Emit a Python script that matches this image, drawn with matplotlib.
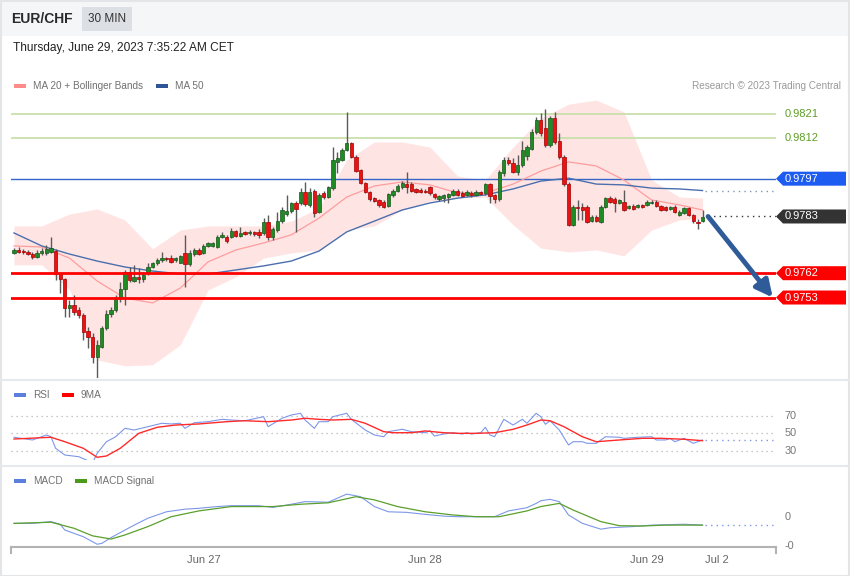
import numpy as np
import matplotlib
matplotlib.use("Agg")
import matplotlib.pyplot as plt
from matplotlib.patches import Rectangle, Polygon
from matplotlib.transforms import blended_transform_factory as blend

plt.rcParams['font.family'] = ['Liberation Sans', 'DejaVu Sans']

# ---- EUR/CHF 30 min candles ----
opens = [0.97696, 0.97706, 0.97702, 0.97700, 0.97691, 0.97681, 0.97694, 0.97694, 0.97700, 0.97703,
         0.97617, 0.97598, 0.97490, 0.97503, 0.97484, 0.97466, 0.97407, 0.97385, 0.97311, 0.97348,
         0.97416, 0.97468, 0.97484, 0.97527, 0.97561, 0.97626, 0.97592, 0.97607, 0.97599, 0.97620,
         0.97644, 0.97657, 0.97669, 0.97675, 0.97675, 0.97669, 0.97659, 0.97695, 0.97654, 0.97691,
         0.97706, 0.97695, 0.97721, 0.97722, 0.97718, 0.97755, 0.97755, 0.97755, 0.97776, 0.97759,
         0.97772, 0.97768, 0.97772, 0.97772, 0.97768, 0.97811, 0.97755, 0.97780, 0.97814, 0.97838,
         0.97851, 0.97881, 0.97879, 0.97922, 0.97873, 0.97924, 0.97848, 0.97916, 0.97902, 0.97934,
         0.98032, 0.98039, 0.98076, 0.98101, 0.98051, 0.98002, 0.97955, 0.97922, 0.97897, 0.97891,
         0.97885, 0.97869, 0.97910, 0.97925, 0.97938, 0.97950, 0.97950, 0.97931, 0.97928, 0.97925,
         0.97940, 0.97913, 0.97894, 0.97897, 0.97903, 0.97910, 0.97925, 0.97918, 0.97910, 0.97918,
         0.97910, 0.97919, 0.97916, 0.97950, 0.97910, 0.97894, 0.97991, 0.98039, 0.98029, 0.97995,
         0.98021, 0.98054, 0.98080, 0.98143, 0.98187, 0.98157, 0.98095, 0.98193, 0.98109, 0.98050,
         0.97950, 0.97799, 0.97866, 0.97866, 0.97866, 0.97814, 0.97829, 0.97811, 0.97866, 0.97897,
         0.97895, 0.97880, 0.97885, 0.97861, 0.97869, 0.97865, 0.97873, 0.97873, 0.97879, 0.97885,
         0.97869, 0.97865, 0.97858, 0.97865, 0.97836, 0.97844, 0.97861, 0.97836, 0.97811, 0.97814]
highs = [0.97713, 0.97718, 0.97710, 0.97706, 0.97699, 0.97706, 0.97713, 0.97725, 0.97754, 0.97710,
         0.97621, 0.97602, 0.97521, 0.97540, 0.97496, 0.97473, 0.97422, 0.97398, 0.97373, 0.97425,
         0.97484, 0.97496, 0.97540, 0.97589, 0.97632, 0.97644, 0.97651, 0.97638, 0.97626, 0.97657,
         0.97663, 0.97675, 0.97700, 0.97681, 0.97688, 0.97681, 0.97688, 0.97762, 0.97706, 0.97713,
         0.97713, 0.97728, 0.97736, 0.97736, 0.97762, 0.97773, 0.97762, 0.97787, 0.97780, 0.97790,
         0.97776, 0.97780, 0.97776, 0.97784, 0.97824, 0.97836, 0.97791, 0.97847, 0.97866, 0.97910,
         0.97884, 0.97887, 0.97935, 0.97959, 0.97935, 0.97932, 0.97917, 0.97924, 0.97943, 0.98088,
         0.98069, 0.98083, 0.98218, 0.98106, 0.98058, 0.98006, 0.97958, 0.97924, 0.97902, 0.97895,
         0.97891, 0.97917, 0.97932, 0.97950, 0.97961, 0.97996, 0.97958, 0.97935, 0.97935, 0.97932,
         0.97943, 0.97917, 0.97910, 0.97913, 0.97917, 0.97932, 0.97932, 0.97924, 0.97928, 0.97924,
         0.97928, 0.97924, 0.97954, 0.97954, 0.97913, 0.98002, 0.98050, 0.98050, 0.98046, 0.98058,
         0.98109, 0.98095, 0.98154, 0.98198, 0.98213, 0.98228, 0.98202, 0.98217, 0.98139, 0.98058,
         0.97958, 0.97873, 0.97891, 0.97880, 0.97873, 0.97836, 0.97836, 0.97873, 0.97902, 0.97906,
         0.97902, 0.97895, 0.97928, 0.97873, 0.97876, 0.97876, 0.97876, 0.97891, 0.97891, 0.97891,
         0.97873, 0.97869, 0.97869, 0.97873, 0.97854, 0.97865, 0.97865, 0.97839, 0.97821, 0.97854]
lows = [0.97691, 0.97694, 0.97691, 0.97688, 0.97673, 0.97676, 0.97688, 0.97688, 0.97695, 0.97595,
        0.97546, 0.97459, 0.97457, 0.97466, 0.97453, 0.97373, 0.97342, 0.97287, 0.97231, 0.97342,
        0.97410, 0.97459, 0.97478, 0.97515, 0.97503, 0.97589, 0.97589, 0.97583, 0.97589, 0.97614,
        0.97639, 0.97651, 0.97663, 0.97665, 0.97657, 0.97663, 0.97657, 0.97570, 0.97647, 0.97684,
        0.97688, 0.97691, 0.97717, 0.97717, 0.97713, 0.97750, 0.97733, 0.97750, 0.97754, 0.97754,
        0.97762, 0.97762, 0.97758, 0.97750, 0.97762, 0.97743, 0.97743, 0.97773, 0.97806, 0.97832,
        0.97843, 0.97774, 0.97873, 0.97869, 0.97865, 0.97829, 0.97843, 0.97895, 0.97898, 0.97928,
        0.97992, 0.98035, 0.98072, 0.98046, 0.97995, 0.97950, 0.97917, 0.97887, 0.97884, 0.97865,
        0.97861, 0.97865, 0.97902, 0.97921, 0.97932, 0.97916, 0.97921, 0.97917, 0.97917, 0.97917,
        0.97910, 0.97895, 0.97887, 0.97885, 0.97879, 0.97906, 0.97906, 0.97902, 0.97906, 0.97904,
        0.97906, 0.97910, 0.97910, 0.97879, 0.97879, 0.97887, 0.97980, 0.98021, 0.97991, 0.97984,
        0.98013, 0.98039, 0.98076, 0.98135, 0.98128, 0.98087, 0.98087, 0.98098, 0.98043, 0.97943,
        0.97795, 0.97795, 0.97817, 0.97817, 0.97806, 0.97810, 0.97810, 0.97806, 0.97861, 0.97880,
        0.97847, 0.97876, 0.97850, 0.97858, 0.97854, 0.97861, 0.97860, 0.97869, 0.97876, 0.97865,
        0.97850, 0.97850, 0.97854, 0.97843, 0.97832, 0.97839, 0.97832, 0.97806, 0.97784, 0.97810]
closes = [0.97706, 0.97700, 0.97699, 0.97691, 0.97679, 0.97696, 0.97703, 0.97709, 0.97712, 0.97617,
          0.97598, 0.97490, 0.97503, 0.97478, 0.97466, 0.97404, 0.97383, 0.97311, 0.97355, 0.97416,
          0.97469, 0.97484, 0.97527, 0.97561, 0.97626, 0.97595, 0.97607, 0.97598, 0.97614, 0.97644,
          0.97657, 0.97669, 0.97675, 0.97672, 0.97663, 0.97675, 0.97684, 0.97654, 0.97694, 0.97706,
          0.97691, 0.97722, 0.97731, 0.97731, 0.97755, 0.97762, 0.97740, 0.97776, 0.97759, 0.97768,
          0.97765, 0.97774, 0.97764, 0.97762, 0.97811, 0.97755, 0.97783, 0.97814, 0.97854, 0.97851,
          0.97881, 0.97858, 0.97922, 0.97876, 0.97921, 0.97842, 0.97910, 0.97902, 0.97938, 0.98039,
          0.98046, 0.98076, 0.98101, 0.98051, 0.97999, 0.97955, 0.97922, 0.97894, 0.97888, 0.97873,
          0.97866, 0.97912, 0.97925, 0.97943, 0.97953, 0.97939, 0.97925, 0.97922, 0.97922, 0.97921,
          0.97916, 0.97901, 0.97906, 0.97910, 0.97912, 0.97925, 0.97910, 0.97906, 0.97922, 0.97908,
          0.97922, 0.97913, 0.97950, 0.97906, 0.97894, 0.97995, 0.98039, 0.98027, 0.97996, 0.98021,
          0.98076, 0.98087, 0.98143, 0.98189, 0.98139, 0.98095, 0.98193, 0.98106, 0.98050, 0.97950,
          0.97799, 0.97865, 0.97860, 0.97854, 0.97811, 0.97829, 0.97814, 0.97866, 0.97897, 0.97885,
          0.97880, 0.97891, 0.97854, 0.97869, 0.97858, 0.97873, 0.97864, 0.97885, 0.97885, 0.97869,
          0.97854, 0.97854, 0.97866, 0.97848, 0.97848, 0.97861, 0.97836, 0.97814, 0.97805, 0.97829]

# MA 20 + Bollinger Bands, MA 50 (read every 6 bars)
bb_idx = list(range(0, 145, 6)) + [149]
ma20 = [0.97721, 0.97717, 0.97676, 0.97591, 0.97528, 0.97510, 0.97565, 0.97662, 0.97706, 0.97732,
        0.97762, 0.97824, 0.97902, 0.97943, 0.97958, 0.97947, 0.97917, 0.97917, 0.97950, 0.97998,
        0.98032, 0.98017, 0.97965, 0.97891, 0.97873, 0.97854]
bb_upper = [0.97795, 0.97795, 0.97839, 0.97858, 0.97817, 0.97710, 0.97780, 0.97795, 0.97795, 0.97795,
            0.97813, 0.97861, 0.98039, 0.98106, 0.98106, 0.98087, 0.97980, 0.97965, 0.98087, 0.98194,
            0.98246, 0.98261, 0.98217, 0.97965, 0.97902, 0.97898]
bb_lower = [0.97651, 0.97651, 0.97558, 0.97299, 0.97277, 0.97281, 0.97355, 0.97558, 0.97606, 0.97676,
            0.97695, 0.97706, 0.97780, 0.97795, 0.97854, 0.97887, 0.97898, 0.97902, 0.97799, 0.97713,
            0.97699, 0.97706, 0.97684, 0.97780, 0.97817, 0.97824]
ma50 = [0.97769, 0.97721, 0.97691, 0.97665, 0.97643, 0.97628, 0.97617, 0.97617, 0.97632, 0.97647,
        0.97665, 0.97702, 0.97773, 0.97813, 0.97854, 0.97880, 0.97898, 0.97910, 0.97932, 0.97961,
        0.97972, 0.97950, 0.97947, 0.97935, 0.97932, 0.97926]

# RSI and its 9MA
rsi_idx = [0, 4, 7, 8, 9, 11, 14, 17, 18, 20, 22, 24, 26, 29, 32, 34, 36, 37, 39, 42,
           45, 47, 50, 54, 55, 58, 60, 62, 63, 65, 66, 68, 69, 72, 73, 76, 78, 80, 81, 84,
           86, 89, 90, 91, 93, 95, 97, 98, 99, 101, 102, 103, 104, 106, 108, 110, 111, 113, 114, 115,
           116, 118, 120, 121, 123, 124, 126, 128, 131, 132, 135, 138, 139, 141, 142, 143, 145, 147, 149]
rsi = [45.7, 42.6, 48.3, 46.3, 33.1, 25.4, 23.5, 16.6, 27.4, 40.6, 46.3, 55.9, 54.0, 57.8, 61.7, 60.9, 61.7, 55.9, 62.3, 63.5,
       66.2, 65.4, 64.6, 69.2, 57.8, 67.4, 71.1, 73.1, 65.4, 55.9, 63.5, 63.5, 69.2, 73.1, 66.2, 54.0, 48.3, 46.3, 52.1, 54.8,
       52.1, 50.9, 53.2, 47.1, 49.4, 50.9, 49.4, 50.9, 49.4, 50.9, 57.1, 48.3, 46.3, 66.2, 59.7, 66.2, 61.7, 73.1, 69.2, 60.5,
       64.6, 54.0, 36.9, 40.6, 40.6, 38.8, 38.8, 46.3, 45.7, 44.5, 45.7, 46.3, 42.6, 42.6, 44.5, 40.6, 44.5, 38.8, 42.6]
rsi_ma_idx = [0, 8, 11, 15, 18, 20, 23, 27, 31, 35, 40, 46, 50, 55, 60, 63, 66, 69, 73, 76,
              80, 82, 86, 89, 93, 96, 100, 104, 108, 111, 114, 116, 119, 123, 126, 131, 136, 140, 145, 149]
rsi_ma = [43.7, 45.7, 40.6, 33.1, 22.8, 24.3, 33.1, 50.2, 57.1, 59.7, 60.9, 63.5, 64.6, 63.5, 65.4, 67.4, 66.2, 65.4, 66.2, 61.7,
          52.1, 50.9, 50.9, 52.9, 50.9, 50.2, 50.2, 50.9, 54.8, 59.7, 65.4, 64.6, 57.8, 46.3, 40.6, 42.6, 44.5, 44.5, 43.4, 41.8]

# MACD and signal
macd_idx = [0, 4, 8, 10, 11, 15, 18, 19, 21, 26, 29, 33, 37, 40, 44, 47, 53, 56, 60, 63,
            68, 70, 72, 75, 78, 81, 85, 89, 93, 96, 100, 104, 107, 111, 113, 114, 116, 118, 120, 123,
            127, 129, 134, 138, 145, 149]
macd = [-0.00022, -0.00022, -0.00016, -0.00025, -0.00045, -0.00068, -0.00094, -0.00091, -0.00071, -0.00028,
        -0.00004, 0.00018, 0.00027, 0.00030, 0.00036, 0.00039, 0.00039, 0.00033, 0.00044, 0.00053,
        0.00051, 0.00065, 0.00079, 0.00070, 0.00036, 0.00018, 0.00016, 0.00009, 0.00003, 0.00001,
        0.00001, 0.00001, 0.00021, 0.00032, 0.00047, 0.00056, 0.00061, 0.00053, 0.00007, -0.00022,
        -0.00042, -0.00037, -0.00033, -0.00028, -0.00025, -0.00028]
signal_idx = [0, 8, 13, 17, 21, 24, 29, 34, 40, 47, 56, 62, 68, 74, 78, 83, 89, 95, 100, 105,
              111, 114, 118, 121, 127, 131, 136, 141, 149]
signal = [-0.00022, -0.00018, -0.00039, -0.00065, -0.00076, -0.00062, -0.00033, 0.00001, 0.00021, 0.00036,
          0.00036, 0.00044, 0.00049, 0.00070, 0.00059, 0.00036, 0.00018, 0.00007, 0.00001, 0.00001,
          0.00021, 0.00036, 0.00047, 0.00024, -0.00016, -0.00030, -0.00031, -0.00028, -0.00028]

levels_green = [0.9821, 0.9812]
level_blue = 0.9797
last_price = 0.9783
levels_red = [0.9762, 0.9753]
target = 0.9753

day_ticks = [41, 89, 137, 152]
day_labels = ['Jun 27', 'Jun 28', 'Jun 29', 'Jul 2']

# ---- figure ----
W, H = 850, 576
fig = plt.figure(figsize=(W / 100, H / 100), dpi=100)
XL = (-0.65, 164.9)


def panel(top, bottom):
    return [11 / W, 1 - bottom / H, 765 / W, (bottom - top) / H]


ov = fig.add_axes([0, 0, 1, 1])
ov.set_xlim(0, W)
ov.set_ylim(H, 0)
ov.axis('off')

ov.add_patch(Rectangle((0, 0), W, 36, color='#f5f6f7', lw=0))
ov.add_patch(Rectangle((82, 7), 50, 24, color='#dcdfe3', lw=0))
ov.text(11, 19, 'EUR/CHF', fontsize=10, fontweight='bold', color='#2a2a2a', va='center')
ov.text(107, 19, '30 MIN', fontsize=8.5, color='#333333', va='center', ha='center')
ov.text(13, 48, 'Thursday, June 29, 2023 7:35:22 AM CET', fontsize=8.6, color='#222222', va='center')
ov.text(841, 86, 'Research \u00a9 2023 Trading Central', fontsize=7.2, color='#9a9a9a',
        va='center', ha='right')
for yy in (380, 466):
    ov.plot([0, W], [yy, yy], color='#e6e9ec', lw=1.5)
ov.add_patch(Rectangle((0.5, 0.5), W - 1, H - 1, fill=False, ec='#e3e6e9', lw=1.5))


def legend(y, items):
    for x, label, color in items:
        ov.add_patch(Rectangle((x, y - 2), 12, 4, color=color, lw=0))
        ov.text(x + 19, y, label, fontsize=7.2, color='#707070', va='center')


legend(86, [(14, 'MA 20 + Bollinger Bands', '#ff8a8a'), (156, 'MA 50', '#2f5597')])
legend(395, [(14, 'RSI', '#5b7fdb'), (62, '9MA', '#ff0000')])
legend(481, [(14, 'MACD', '#5b7fdb'), (75, 'MACD Signal', '#4c9a1a')])

# ---- price panel ----
ax = fig.add_axes(panel(62, 378))
ax.set_xlim(*XL)
ax.set_ylim(0.97232, 0.98402)
ax.axis('off')

ax.fill_between(bb_idx, bb_lower, bb_upper, color='#ffe4e4', lw=0, zorder=1)
ax.plot(bb_idx, ma20, color='#ff9c9c', lw=0.9, zorder=2)
ax.plot(bb_idx, ma50, color='#4b6fad', lw=1.0, zorder=2)
for lv in levels_green:
    ax.axhline(lv, color='#c9dfac', lw=1.3, zorder=1.5)
ax.axhline(level_blue, color='#3465c9', lw=1.0, zorder=1.5)
for lv in levels_red:
    ax.axhline(lv, color='#ff0000', lw=2, zorder=4)

idx = np.arange(len(closes))
o, h, l, c = map(np.array, (opens, highs, lows, closes))
up = c >= o
ax.vlines(idx, l, h, color='#5a5a5a', lw=1, zorder=3)
ax.bar(idx, np.maximum(np.abs(c - o), 0.00004), bottom=np.minimum(o, c), width=0.72,
       color=np.where(up, '#1f8b24', '#ee1111'), edgecolor=np.where(up, '#17561a', '#a00000'),
       lw=0.5, zorder=3.5)

n = len(closes)
ax.plot([n - 0.5, XL[1]], [ma50[-1]] * 2, color='#8095bd', lw=1, ls=(0, (1, 3)))
ax.plot([n + 0.2, XL[1]], [last_price] * 2, color='#333333', lw=1, ls=(0, (1, 3)))
ax.annotate('', xy=(164.2, target), xytext=(150.2, last_price),
            arrowprops=dict(arrowstyle='-|>,head_length=0.5,head_width=0.25', color='#2f5c99',
                            lw=3.5, mutation_scale=20, shrinkA=0, shrinkB=0), zorder=5)

tr = blend(ov.transData, ax.transData)
ppx = (0.98402 - 0.97232) / 316


def tag(price, color):
    hh = 7 * ppx
    ov.add_patch(Polygon([(776, price), (783, price + hh), (846, price + hh),
                          (846, price - hh), (783, price - hh)], closed=True, color=color,
                         lw=0, transform=tr, clip_on=False))
    ov.text(785, price, f'{price:.4f}', transform=tr, color='white', fontsize=8, va='center')


for lv in levels_green:
    ov.text(785, lv, f'{lv:.4f}', transform=tr, color='#5e9f26', fontsize=8, va='center')
tag(level_blue, '#1c5cf0')
tag(last_price, '#333333')
for lv in levels_red:
    tag(lv, '#ff0000')

# ---- RSI panel ----
ax2 = fig.add_axes(panel(400, 460))
ax2.set_xlim(*XL)
ax2.set_ylim(19.71, 88.29)
ax2.axis('off')
tr2 = blend(ov.transData, ax2.transData)
for lv in (70, 50, 30):
    ax2.axhline(lv, color='#b5b5b5', lw=0.9, ls=(0, (1, 3)))
    ov.text(785, lv, str(lv), transform=tr2, color='#777777', fontsize=7.8, va='center')
ax2.plot(rsi_idx, rsi, color='#7d97e8', lw=0.8)
ax2.plot(rsi_ma_idx, rsi_ma, color='#ff2a2a', lw=1.0)
ax2.plot([rsi_idx[-1] + 0.5, XL[1]], [rsi[-1]] * 2, color='#7d97e8', lw=1, ls=(0, (1, 3)))

# ---- MACD panel ----
ax3 = fig.add_axes(panel(490, 547))
ax3.set_xlim(*XL)
ax3.set_ylim(-0.001035, 0.0009315)
ax3.axis('off')
tr3 = blend(ov.transData, ax3.transData)
ax3.plot(macd_idx, macd, color='#7d97e8', lw=0.8)
ax3.plot(signal_idx, signal, color='#5aa02c', lw=0.9)
ax3.plot([macd_idx[-1] + 0.5, XL[1]], [macd[-1]] * 2, color='#7d97e8', lw=1, ls=(0, (1, 3)))
ov.text(785, 0.0, '0', transform=tr3, color='#777777', fontsize=7.8, va='center')
ov.text(785, -0.001, '-0', transform=tr3, color='#777777', fontsize=7.8, va='center')

ov.plot([11, 776], [547, 547], color='#b3b3b3', lw=1.5)
ov.plot([11, 11], [547, 553], color='#b3b3b3', lw=1.5)
ov.plot([776, 776], [547, 553], color='#b3b3b3', lw=1.5)
trx = blend(ax3.transData, ov.transData)
for t, lab in zip(day_ticks, day_labels):
    ax3.text(t, 560, lab, transform=trx, ha='center', va='center', fontsize=8,
             color='#666666', clip_on=False)

fig.savefig('out.png', dpi=100)
